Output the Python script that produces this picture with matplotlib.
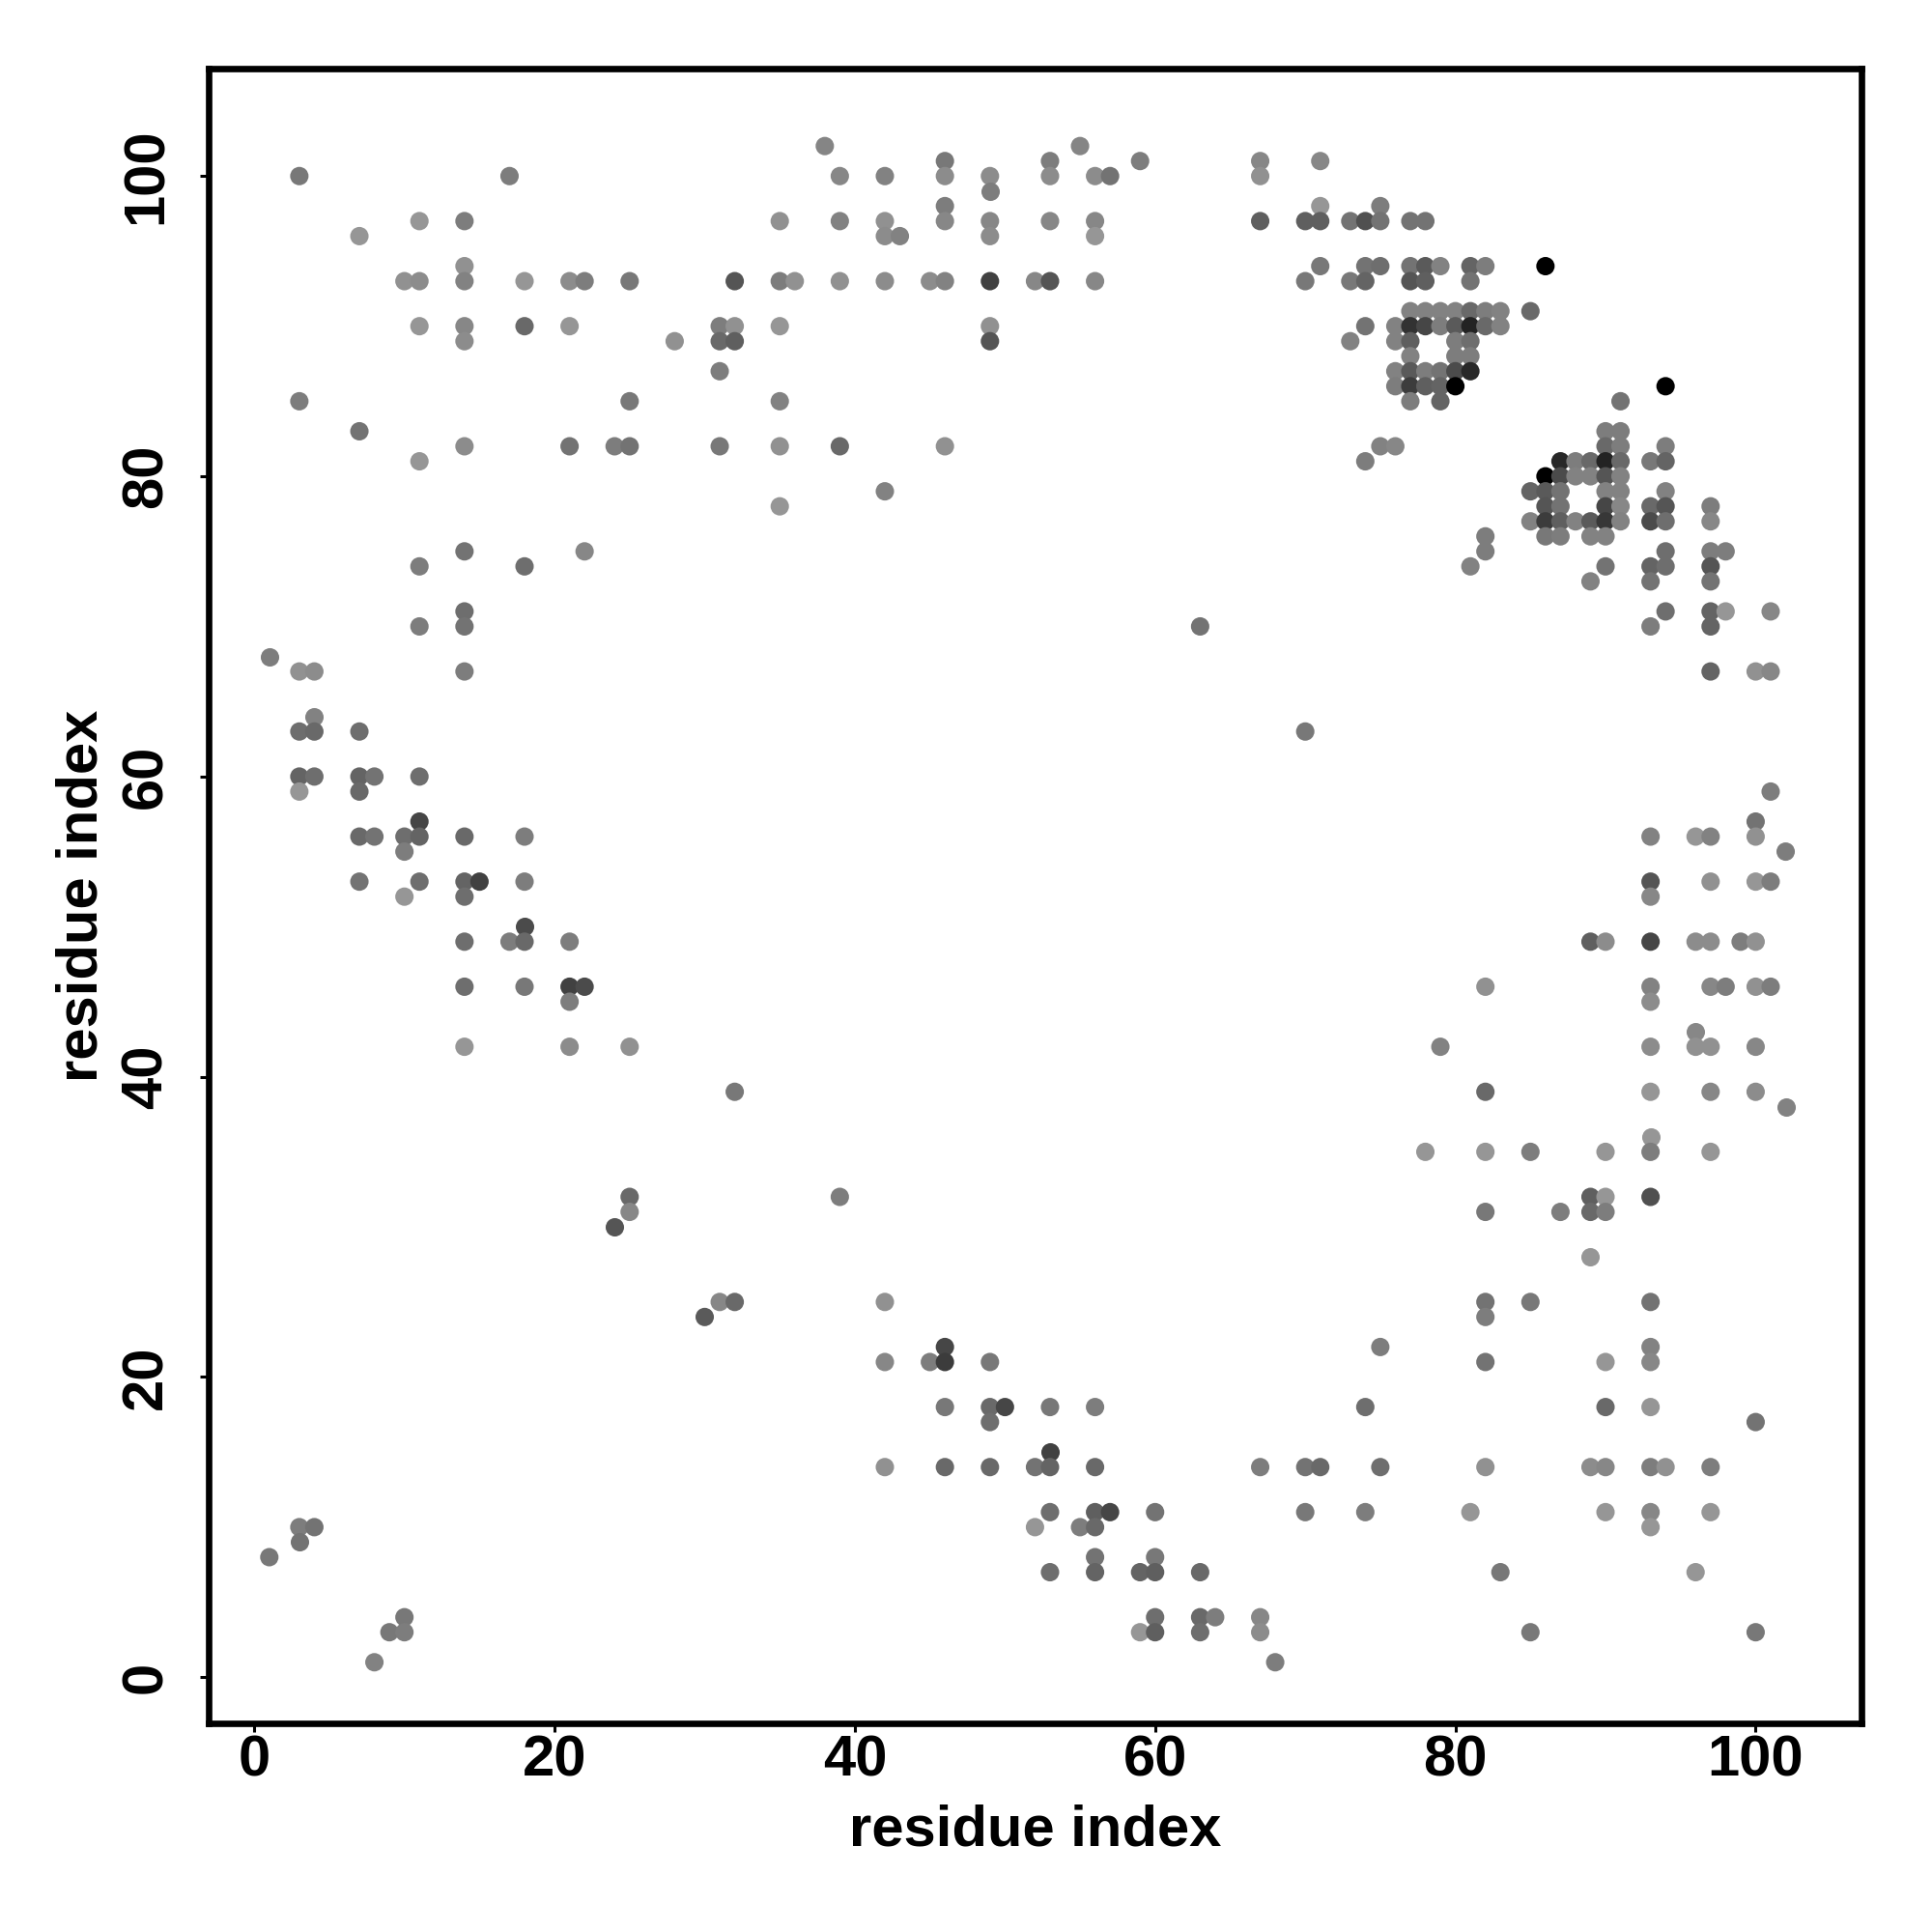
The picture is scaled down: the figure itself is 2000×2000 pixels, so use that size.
import matplotlib
matplotlib.use("Agg")
import matplotlib.pyplot as plt

# contact map, one entry per row of the plot (residue on the y axis)
row_y = [102, 101, 100, 99, 98, 97, 96, 94, 93, 91, 90, 89, 88, 87, 86, 85, 83, 82, 81, 80,
         79, 78, 77, 76, 75, 74, 73, 71, 70, 68, 67, 64, 63, 60, 59, 57, 56, 55, 53, 52,
         50, 49, 46, 45, 43, 42, 39, 38, 36, 35, 32, 31, 30, 28, 25, 24, 22, 21, 18, 17,
         15, 14, 11, 10, 9, 8, 7, 4, 3, 1]

row_x = [
    [38, 55],
    [46, 53, 59, 67, 71],
    [3, 17, 39, 42, 46, 49, 53, 56, 57, 67],
    [49],
    [46, 71, 75],
    [11, 14, 35, 39, 42, 46, 49, 53, 56, 67, 70, 71, 73, 74, 75, 77, 78],
    [7, 42, 43, 49, 56],
    [14, 71, 74, 75, 77, 78, 79, 81, 82, 86],
    [10, 11, 14, 18, 21, 22, 25, 32, 35, 36, 39, 42, 45, 46, 49, 52, 53, 56, 70, 73, 74, 77, 78, 81],
    [77, 78, 79, 80, 81, 82, 83, 85],
    [11, 14, 18, 21, 31, 32, 35, 49, 74, 76, 77, 78, 79, 80, 81, 82, 83],
    [14, 28, 31, 32, 49, 73, 76, 77, 80, 81],
    [77, 80, 81],
    [31, 76, 77, 78, 79, 80, 81],
    [76, 77, 78, 79, 80, 94],
    [3, 25, 35, 77, 79, 91],
    [7, 90, 91],
    [14, 21, 24, 25, 31, 35, 39, 46, 75, 76, 90, 91, 94],
    [11, 74, 87, 88, 89, 90, 91, 93, 94],
    [86, 87, 88, 89, 90, 91],
    [42, 85, 86, 87, 90, 91, 94],
    [35, 86, 87, 90, 91, 93, 94, 97],
    [85, 86, 87, 88, 89, 90, 91, 93, 94, 97],
    [82, 86, 87, 89, 90],
    [14, 22, 82, 94, 97, 98],
    [11, 18, 81, 90, 93, 94, 97],
    [89, 93, 97],
    [14, 94, 97, 98, 101],
    [11, 14, 63, 93, 97],
    [1],
    [3, 4, 14, 97, 100, 101],
    [4],
    [3, 4, 7, 70],
    [3, 4, 7, 8, 11],
    [3, 7, 101],
    [11, 100],
    [7, 8, 10, 11, 14, 18, 93, 96, 97, 100],
    [10, 102],
    [7, 11, 14, 15, 18, 93, 97, 100, 101],
    [10, 14, 93],
    [18],
    [14, 17, 18, 21, 89, 90, 93, 96, 97, 99, 100],
    [14, 18, 21, 22, 82, 93, 97, 98, 100, 101],
    [21, 93],
    [96],
    [14, 21, 25, 79, 93, 96, 97, 100],
    [32, 82, 93, 97, 100],
    [102],
    [93],
    [78, 82, 85, 90, 93, 97],
    [25, 39, 89, 90, 93],
    [25, 82, 87, 89, 90],
    [24],
    [89],
    [31, 32, 42, 82, 85, 93],
    [30, 82],
    [46, 75, 93],
    [42, 45, 46, 49, 82, 90, 93],
    [46, 49, 50, 53, 56, 74, 90, 93],
    [49, 100],
    [53],
    [42, 46, 49, 52, 53, 56, 67, 70, 71, 75, 82, 89, 90, 93, 94, 97],
    [53, 56, 57, 60, 70, 74, 81, 90, 93, 97],
    [3, 4, 52, 55, 56, 93],
    [3],
    [1, 56, 60],
    [53, 56, 59, 60, 63, 83, 96],
    [10, 60, 63, 64, 67],
    [9, 10, 59, 60, 63, 67, 85, 100],
    [8, 68],
]

# grey level of every point, 0 = black, 255 = white
row_gray = [
    [133, 133],
    [120, 125, 125, 135, 135],
    [120, 125, 135, 130, 140, 140, 140, 140, 115, 145],
    [125],
    [125, 150, 125],
    [150, 125, 145, 130, 145, 135, 135, 135, 135, 95, 95, 95, 115, 80, 115, 115, 115],
    [150, 140, 130, 140, 150],
    [145, 120, 115, 110, 115, 90, 130, 100, 125, 0],
    [145, 140, 130, 150, 140, 125, 120, 85, 125, 145, 145, 140, 140, 130, 65, 135, 85, 135, 120, 120, 100, 85, 95, 115],
    [130, 130, 130, 130, 105, 125, 130, 105],
    [150, 135, 105, 150, 125, 145, 150, 145, 115, 130, 50, 70, 125, 90, 35, 105, 130],
    [140, 145, 105, 95, 85, 130, 130, 95, 125, 110],
    [130, 125, 125],
    [125, 130, 90, 125, 115, 75, 40],
    [125, 60, 95, 100, 0, 0],
    [125, 120, 130, 125, 100, 115],
    [115, 125, 125],
    [140, 115, 125, 115, 120, 145, 105, 145, 130, 135, 105, 125, 125],
    [150, 125, 40, 125, 105, 35, 105, 120, 100],
    [0, 75, 130, 130, 85, 130],
    [130, 100, 90, 115, 130, 130, 130],
    [150, 85, 115, 70, 135, 105, 85, 125],
    [130, 60, 95, 130, 90, 55, 130, 75, 110, 135],
    [125, 120, 125, 130, 130],
    [115, 135, 125, 110, 125, 125],
    [125, 110, 130, 115, 100, 110, 85],
    [130, 115, 115],
    [110, 110, 100, 150, 135],
    [125, 115, 115, 125, 100],
    [125],
    [145, 140, 125, 100, 145, 135],
    [130],
    [110, 105, 110, 120],
    [100, 110, 100, 115, 110],
    [150, 105, 125],
    [70, 115],
    [105, 115, 110, 100, 105, 125, 130, 150, 130, 145],
    [125, 125],
    [115, 110, 100, 65, 125, 85, 145, 150, 125],
    [150, 110, 135],
    [75],
    [110, 125, 105, 125, 95, 140, 70, 140, 140, 125, 145],
    [110, 120, 65, 75, 145, 130, 135, 125, 145, 125],
    [125, 140],
    [135],
    [150, 140, 145, 130, 140, 145, 145, 135],
    [120, 105, 150, 135, 140],
    [130],
    [150],
    [150, 150, 125, 150, 125, 150],
    [105, 125, 95, 150, 80],
    [135, 120, 125, 105, 125],
    [85],
    [150],
    [135, 105, 145, 115, 120, 115],
    [90, 125],
    [70, 125, 130],
    [135, 125, 60, 120, 115, 150, 135],
    [120, 105, 70, 120, 125, 110, 105, 150],
    [110, 115],
    [65],
    [145, 105, 105, 115, 100, 105, 125, 115, 105, 110, 145, 140, 135, 125, 145, 125],
    [110, 95, 70, 115, 120, 125, 150, 150, 135, 150],
    [125, 115, 150, 125, 105, 150],
    [115],
    [120, 115, 120],
    [110, 100, 100, 95, 105, 120, 150],
    [120, 110, 105, 125, 135],
    [120, 125, 150, 95, 110, 140, 120, 120],
    [130, 125],
]

tick_vals = [0, 20, 40, 60, 80, 100]

plt.rcParams['font.family'] = ['Liberation Sans', 'DejaVu Sans']
plt.rcParams['font.weight'] = 'bold'

fig = plt.figure(figsize=(10, 10), dpi=200)
ax = fig.add_axes([216 / 2000, 1 - 1783.7 / 2000, (1927 - 216) / 2000, (1783.7 - 71) / 2000])

for y, xs, grays in zip(row_y, row_x, row_gray):
    cols = [str(g / 255) for g in grays]
    ax.scatter(xs, [y] * len(xs), s=47, c=cols, linewidths=0, zorder=3)

ax.set_xlim(-3.04, 107.05)
ax.set_ylim(-3.05, 107.16)
ax.set_xticks(tick_vals)
ax.set_yticks(tick_vals)

for s in ax.spines.values():
    s.set_linewidth(2.4)

ax.tick_params(axis='x', length=3.4, width=1.1, labelsize=21.5, pad=1)
ax.tick_params(axis='y', length=3.4, width=1.1, labelsize=21.5, pad=9.8)
for lab in ax.get_yticklabels():
    lab.set_rotation(90)
    lab.set_va('center')

ax.set_xlabel("residue index", fontsize=21.5, fontweight='bold', labelpad=5.8)
ax.set_ylabel("residue index", fontsize=21.5, fontweight='bold', labelpad=4.3)

plt.savefig("out.png", dpi=200)
